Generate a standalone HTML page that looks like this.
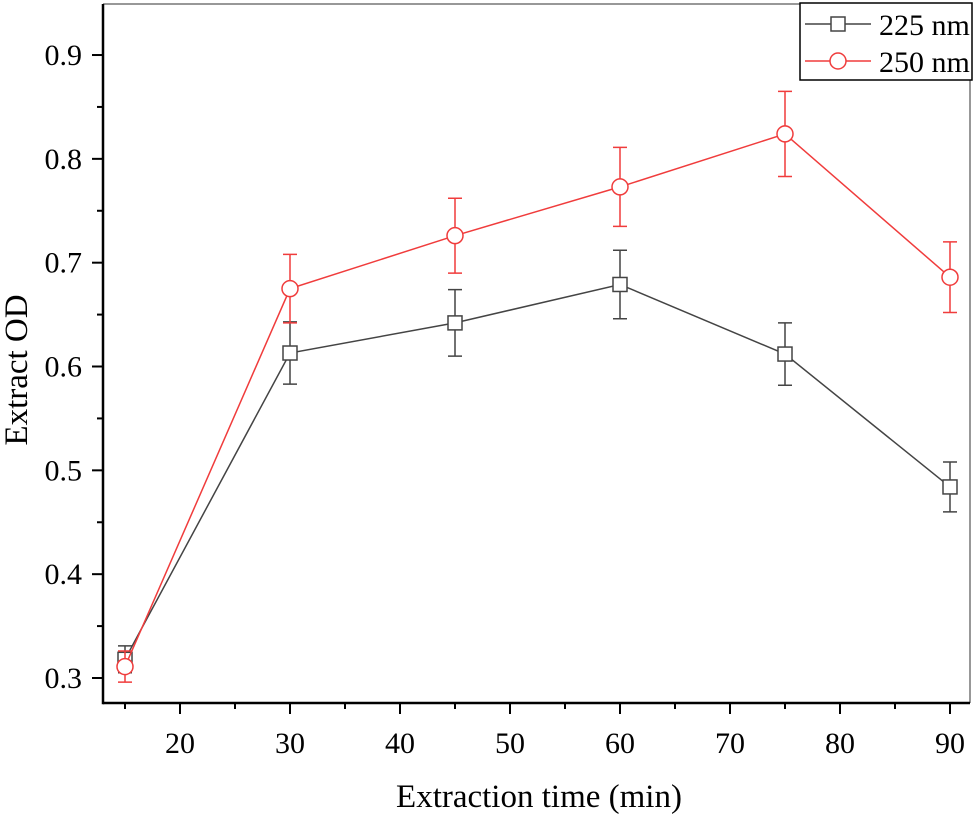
<!DOCTYPE html>
<html><head><meta charset="utf-8"><style>
body{margin:0;background:#fff}
svg text{font-family:"Liberation Serif",serif;fill:#000}
</style></head><body>
<svg id="c" width="975" height="816" viewBox="0 0 975 816"></svg>
<script>
const xs=[15,30,45,60,75,90];
const s225=[0.318,0.613,0.642,0.679,0.612,0.484];
const e225=[0.013,0.030,0.032,0.033,0.030,0.024];
const s250=[0.311,0.675,0.726,0.773,0.824,0.686];
const e250=[0.015,0.033,0.036,0.038,0.041,0.034];
const xTicks=[20,30,40,50,60,70,80,90];
const yTicks=[0.3,0.4,0.5,0.6,0.7,0.8,0.9];
const X=v=>125+(v-15)*11;
const Y=v=>678-(v-0.3)*1038.3;
const svg=document.getElementById('c');
const NS='http://www.w3.org/2000/svg';
function mk(t,a,p){const e=document.createElementNS(NS,t);for(const k in a)e.setAttribute(k,a[k]);(p||svg).appendChild(e);return e;}
const L=103,R=970,T=4,B=703;
let e;
e=mk('line',{x1:L,y1:T,x2:R,y2:T,stroke:'#777','stroke-width':1.5});


e=mk('line',{x1:R,y1:T,x2:R,y2:B,stroke:'#777','stroke-width':1.5});


e=mk('line',{x1:L,y1:B,x2:R,y2:B,stroke:'#000','stroke-width':2.5});


e=mk('line',{x1:L,y1:T,x2:L,y2:B+1.2,stroke:'#000','stroke-width':2.5});


for(let v=15;v<=90;v+=5){const maj=v%10==0;
 e=mk('line',{x1:X(v),y1:B,x2:X(v),y2:B+(maj?11:6),stroke:'#000','stroke-width':2});
 
 }
xTicks.forEach(v=>{e=mk('text',{x:X(v),y:753,'font-size':30,'text-anchor':'middle'});e.textContent=v;
 
 });
for(let i=0;i<=12;i++){const v=0.3+i*0.05;const maj=i%2==0;
 e=mk('line',{x1:L,y1:Y(v),x2:L-(maj?11:6),y2:Y(v),stroke:'#000','stroke-width':2});
 
 }
yTicks.forEach(v=>{e=mk('text',{x:82,y:Y(v)+10,'font-size':30,'text-anchor':'end'});e.textContent=v.toFixed(1);
 
 });
e=mk('text',{x:539,y:807,'font-size':33,'text-anchor':'middle'});e.textContent='Extraction time (min)';


e=mk('text',{x:0,y:0,'font-size':33,'text-anchor':'middle',transform:'translate(27,370) rotate(-90)'});e.textContent='Extract OD';


function series(vals,errs,col,shape,name){
 const g=mk('g',{});
 
 
 e=mk('polyline',{points:vals.map((v,i)=>X(xs[i])+','+Y(v)).join(' '),fill:'none',stroke:col,'stroke-width':1.5},g);
 
 
 vals.forEach((v,i)=>{const x=X(xs[i]);const y1=Y(v+errs[i]),y2=Y(v-errs[i]);
  e=mk('path',{d:`M${x},${y1}V${y2}M${x-7},${y1}H${x+7}M${x-7},${y2}H${x+7}`,stroke:col,'stroke-width':1.5,fill:'none'},g);
  
  
  if(shape=='sq')e=mk('rect',{x:x-7,y:Y(v)-7,width:14,height:14,fill:'#fff',stroke:col,'stroke-width':1.5},g);
  else e=mk('circle',{cx:x,cy:Y(v),r:8,fill:'#fff',stroke:col,'stroke-width':1.5},g);
  
  });
}
series(s225,e225,'#444','sq','series-225nm');
series(s250,e250,'#f03c3c','ci','series-250nm');
const lg=mk('g',{});


e=mk('rect',{x:800,y:3,width:172,height:77,fill:'#fff',stroke:'#000','stroke-width':1.5},lg);


e=mk('line',{x1:805,y1:24,x2:871,y2:24,stroke:'#444','stroke-width':1.5},lg);


e=mk('rect',{x:831,y:17,width:14,height:14,fill:'#fff',stroke:'#444','stroke-width':1.5},lg);


e=mk('text',{x:879,y:35,'font-size':30},lg);e.textContent='225 nm';


e=mk('line',{x1:805,y1:61,x2:871,y2:61,stroke:'#f03c3c','stroke-width':1.5},lg);


e=mk('circle',{cx:838,cy:61,r:8,fill:'#fff',stroke:'#f03c3c','stroke-width':1.5},lg);


e=mk('text',{x:879,y:72,'font-size':30},lg);e.textContent='250 nm';


</script>
</body></html>
